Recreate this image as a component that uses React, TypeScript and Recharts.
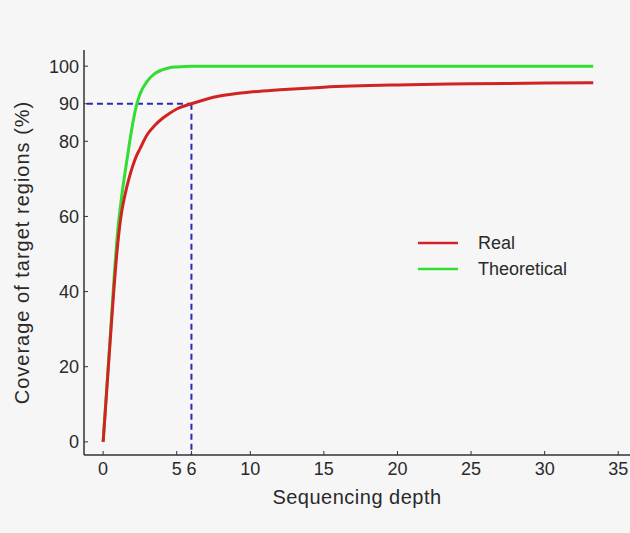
import React from 'react'
import {
  LineChart, Line, XAxis, YAxis, Legend, ReferenceLine,
} from 'recharts'

// sequencing depth (x) and coverage of target regions in % (y)
const depth = [0, 0.25, 0.5, 0.75, 1, 1.25, 1.5, 1.75, 2, 2.25, 2.5, 3, 3.5, 4, 4.5, 5, 6, 7, 8, 10, 12, 15, 20, 25, 30, 33.3]
const realCoverage = [0, 14, 28, 41.5, 53, 61, 66, 70, 73.3, 76, 78, 81.8, 84.2, 86, 87.4, 88.6, 90, 91.2, 92.1, 93.1, 93.7, 94.4, 95, 95.3, 95.5, 95.6]
const theoreticalCoverage = [0, 14.5, 29, 44, 56.5, 65, 72, 78.5, 84.5, 89.3, 92.5, 96, 98, 99, 99.6, 99.8, 100, 100, 100, 100, 100, 100, 100, 100, 100, 100]

const xTicks = [0, 5, 6, 10, 15, 20, 25, 30, 35]
const yTicks = [0, 20, 40, 60, 80, 90, 100]
const X_DOMAIN = [-1.3, 35.8]
const Y_DOMAIN = [-3.5, 104.3]

// the marked point: 90% coverage reached at depth 6
const markDepth = 6
const markCoverage = 90

const LEGEND_ORDER = ['Real', 'Theoretical']

const RED = '#d02424'
const GREEN = '#33dd33'
const BLUE = '#2a2ab4'
const FONT = '"Liberation Sans", Arial, sans-serif'
const TEXT = '#2a2a2a'

const data = depth.map((d, i) => ({
  depth: d,
  real: realCoverage[i],
  theoretical: theoreticalCoverage[i],
}))

function YTitle({ viewBox }: any) {
  const cx = viewBox.x + 22
  const cy = viewBox.y + viewBox.height / 2
  return (
    <text x={cx} y={cy} transform={`rotate(-90 ${cx} ${cy})`} textAnchor="middle" dominantBaseline="central"
      fontFamily={FONT} fontSize={20} letterSpacing={1} fill={TEXT}>
      Coverage of target regions (%)
    </text>
  )
}

function XTitle({ viewBox }: any) {
  const cx = viewBox.x + viewBox.width / 2
  return (
    <text x={cx} y={viewBox.y + 42} textAnchor="middle" dominantBaseline="central"
      fontFamily={FONT} fontSize={20} letterSpacing={0.5} fill={TEXT}>
      Sequencing depth
    </text>
  )
}

function LegendBox({ payload }: any) {
  const items = [...(payload ?? [])].sort((a, b) => LEGEND_ORDER.indexOf(a.value) - LEGEND_ORDER.indexOf(b.value))
  return (
    <div style={{ width: 200 }}>
      {items.map((p: any) => (
        <div key={p.value} style={{ display: 'flex', alignItems: 'center', height: 26, whiteSpace: 'nowrap' }}>
          <svg width={63} height={26}>
            <line x1={3} x2={43} y1={13} y2={13} stroke={p.color} strokeWidth={2.5} />
          </svg>
          <span style={{ fontFamily: FONT, fontSize: 18, color: TEXT }}>{p.value}</span>
        </div>
      ))}
    </div>
  )
}

export default function App() {
  const tick = { fontSize: 18, fill: TEXT, fontFamily: FONT }
  return (
    <div style={{ position: 'absolute', left: 0, top: 0, width: 630, height: 533, background: '#f6f6f6' }}>
      <LineChart width={630} height={533} data={data} margin={{ top: 50, right: 0, left: 0, bottom: 0 }}>
        <XAxis
          dataKey="depth"
          type="number"
          domain={X_DOMAIN}
          allowDataOverflow
          ticks={xTicks}
          interval={0}
          height={78}
          tick={tick}
          tickSize={-4}
          tickMargin={11}
          tickLine={{ stroke: '#333' }}
          axisLine={{ stroke: '#333', strokeWidth: 1.5 }}
          label={<XTitle />}
        />
        <XAxis
          xAxisId="top"
          orientation="top"
          type="number"
          domain={X_DOMAIN}
          allowDataOverflow
          height={0}
          tick={false}
          tickLine={false}
          axisLine={{ stroke: '#8a8a8a', strokeWidth: 1.5 }}
        />
        <YAxis
          type="number"
          domain={Y_DOMAIN}
          allowDataOverflow
          ticks={yTicks}
          interval={0}
          width={84}
          tick={tick}
          tickSize={-4}
          tickMargin={9}
          tickLine={{ stroke: '#333' }}
          axisLine={{ stroke: '#333', strokeWidth: 1.5 }}
          label={<YTitle />}
        />
        <ReferenceLine
          segment={[{ x: X_DOMAIN[0] + 0.2, y: markCoverage }, { x: markDepth, y: markCoverage }]}
          stroke={BLUE}
          strokeWidth={2}
          strokeDasharray="6 4"
        />
        <ReferenceLine
          segment={[{ x: markDepth, y: markCoverage }, { x: markDepth, y: Y_DOMAIN[0] }]}
          stroke={BLUE}
          strokeWidth={2}
          strokeDasharray="6 4"
        />
        <Line
          type="monotone"
          dataKey="theoretical"
          name="Theoretical"
          stroke={GREEN}
          strokeWidth={3}
          dot={false}
          isAnimationActive={false}
        />
        <Line
          type="monotone"
          dataKey="real"
          name="Real"
          stroke={RED}
          strokeWidth={3}
          dot={false}
          isAnimationActive={false}
        />
        <Legend
          content={<LegendBox />}
          layout="horizontal"
          verticalAlign="middle"
          align="center"
          wrapperStyle={{ left: 415, top: 230, width: 0, height: 0, overflow: 'visible' }}
        />
      </LineChart>
    </div>
  )
}
